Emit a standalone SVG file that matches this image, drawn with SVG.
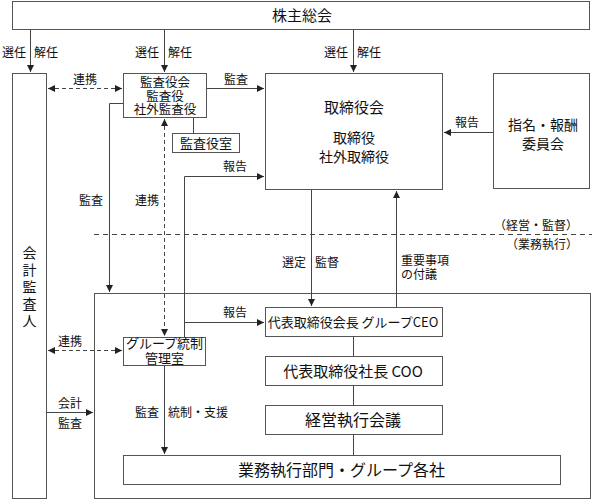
<svg xmlns="http://www.w3.org/2000/svg" width="592" height="500" viewBox="0 0 592 500">
<defs>
<marker id="ah" markerUnits="userSpaceOnUse" markerWidth="8" markerHeight="8" refX="7" refY="4" orient="auto-start-reverse">
<path d="M0,0.5 L7,4 L0,7.5 z" fill="#222"/>
</marker>
<style>
text{font-family:"Noto Sans CJK JP","Noto Sans CJK SC",sans-serif;fill:#111;}
.box{fill:#fff;stroke:#555;stroke-width:1;}
.ln{fill:none;stroke:#444;stroke-width:1;}
.ar{fill:none;stroke:#444;stroke-width:1;marker-end:url(#ah);}
.da{fill:none;stroke:#444;stroke-width:1;stroke-dasharray:4,3;marker-end:url(#ah);marker-start:url(#ah);}
.dv{fill:none;stroke:#444;stroke-width:1;stroke-dasharray:5,4;}
.c{text-anchor:middle;}
.e{text-anchor:end;}
.s{font-size:12px;}
.m{font-size:13px;}
.ms{font-size:12.5px;}
.l{font-size:14px;}
.xl{font-size:15px;}
.xxl{font-size:16px;}
</style>
</defs>
<rect width="592" height="500" fill="#fff"/>

<g id="execution">
<rect class="box" x="94.5" y="293.5" width="496" height="205"/>
</g>

<g id="connectors">
<path class="ar" d="M30.5,29.5 V72"/>
<path class="ar" d="M164.5,29.5 V72"/>
<path class="ar" d="M353.5,29.5 V72"/>
<path class="da" d="M48,88.5 H122"/>
<path class="ar" d="M206,88.5 H264"/>
<path class="ar" d="M123,103.5 H109.5 V292"/>
<path class="ln" d="M193.5,117.5 V133.5"/>
<path class="da" d="M164.5,119 V336"/>
<path class="ar" d="M184.5,337 V176.5 H264"/>
<path class="ar" d="M184.5,322.5 H264"/>
<path class="ar" d="M493,132.5 H444"/>
<path class="dv" d="M94,234.5 H592"/>
<path class="ar" d="M311.5,190 V306"/>
<path class="ar" d="M396.5,307 V191"/>
<path class="ln" d="M353.5,337 V356 M353.5,386 V405 M353.5,435 V455"/>
<path class="da" d="M48,350.5 H122"/>
<path class="ar" d="M164.5,366 V454"/>
<path class="ar" d="M46,412.5 H93"/>
</g>

<g id="labels">
<text class="s e" x="26" y="57">選任</text><text class="s" x="34" y="57">解任</text>
<text class="s e" x="159" y="57">選任</text><text class="s" x="168" y="57">解任</text>
<text class="s e" x="348" y="57">選任</text><text class="s" x="357" y="57">解任</text>
<text class="s c" x="85" y="83.5">連携</text>
<text class="s c" x="236" y="83.5">監査</text>
<text class="s c" x="91" y="205">監査</text>
<text class="s c" x="147" y="205">連携</text>
<text class="s c" x="235" y="170.5">報告</text>
<text class="s c" x="235" y="316.5">報告</text>
<text class="s c" x="467" y="126.5">報告</text>
<text class="s e" x="578" y="229.5">（経営・監督）</text>
<text class="s e" x="578" y="248.5">（業務執行）</text>
<text class="s e" x="306" y="266.5">選定</text><text class="s" x="315" y="266.5">監督</text>
<text class="s" x="401" y="265">重要事項</text>
<text class="s" x="401" y="279">の付議</text>
<text class="s c" x="70" y="345.5">連携</text>
<text class="s c" x="70" y="407.5">会計</text>
<text class="s c" x="70" y="427.5">監査</text>
<text class="s c" x="147" y="416.5">監査</text>
<text class="s" x="168" y="416.5">統制・支援</text>
</g>

<g id="shareholders">
<rect class="box" x="12.5" y="1.5" width="577" height="28"/>
<text class="xl c" x="302" y="21">株主総会</text>
</g>

<g id="auditor">
<rect class="box" x="12.5" y="73.5" width="34" height="425"/>
<text class="l c" x="29.5" y="258">会</text>
<text class="l c" x="29.5" y="275">計</text>
<text class="l c" x="29.5" y="292">監</text>
<text class="l c" x="29.5" y="309">査</text>
<text class="l c" x="29.5" y="326">人</text>
</g>

<g id="audit-board">
<rect class="box" x="123.5" y="73.5" width="83" height="44"/>
<text class="ms c" x="165" y="86.5">監査役会</text>
<text class="ms c" x="165" y="100.5">監査役</text>
<text class="ms c" x="165" y="114">社外監査役</text>
</g>

<g id="audit-office">
<rect class="box" x="172.5" y="133.5" width="67" height="19"/>
<text class="m c" x="206" y="148">監査役室</text>
</g>

<g id="board">
<rect class="box" x="265.5" y="73.5" width="177" height="116"/>
<text class="xl c" x="354" y="112.5">取締役会</text>
<text class="l c" x="354" y="142.5">取締役</text>
<text class="l c" x="354" y="161.5">社外取締役</text>
</g>

<g id="nomination">
<rect class="box" x="493.5" y="73.5" width="96" height="115"/>
<text class="l c" x="543" y="130">指名・報酬</text>
<text class="l c" x="543" y="148.5">委員会</text>
</g>

<g id="ceo">
<rect class="box" x="265.5" y="307.5" width="177" height="29"/>
<text class="m c" x="353" y="327">代表取締役会長 グループCEO</text>
</g>

<g id="coo">
<rect class="box" x="265.5" y="356.5" width="177" height="29"/>
<text class="xl c" x="353" y="376.5">代表取締役社長 COO</text>
</g>

<g id="exec-meeting">
<rect class="box" x="265.5" y="405.5" width="177" height="29"/>
<text class="xxl c" x="353" y="425.5">経営執行会議</text>
</g>

<g id="group-control">
<rect class="box" x="123.5" y="337.5" width="82" height="28"/>
<text class="m c" x="164.5" y="348">グループ統制</text>
<text class="m c" x="164.5" y="363">管理室</text>
</g>

<g id="business-units">
<rect class="box" x="123.5" y="455.5" width="437" height="29"/>
<text class="xxl c" x="341.5" y="475.5">業務執行部門・グループ各社</text>
</g>
</svg>
